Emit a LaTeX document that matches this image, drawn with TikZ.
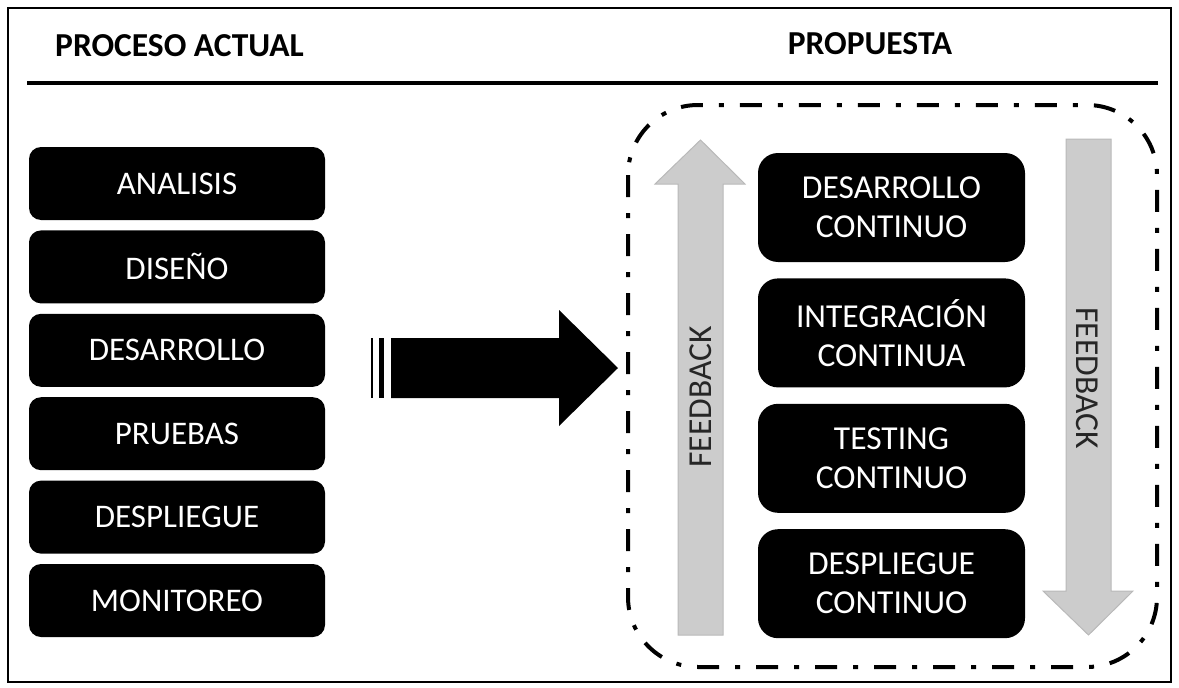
\documentclass[tikz,border=0pt]{standalone}
\usepackage{fontspec}
\setmainfont{Carlito}
\usetikzlibrary{positioning}

\begin{document}
\begin{tikzpicture}[
    x=1pt, y=-1pt,
    node distance=10pt,
    phase/.style={rectangle, fill=black, text=white, rounded corners=12pt, minimum width=296pt, minimum height=73pt, font=\fontsize{33}{38}\selectfont},
    cont/.style={rectangle, fill=black, text=white, rounded corners=20pt, minimum width=267pt, minimum height=109pt, align=center, font=\fontsize{33.5}{39}\selectfont},
    title/.style={font=\bfseries\fontsize{33.5}{38}\selectfont},
    feedarrow/.style={fill=gray!40, draw=gray!55, line width=1pt},
    feedlabel/.style={text=black!85, font=\fontsize{33.5}{38}\selectfont}
]
\useasboundingbox (0,0) rectangle (1179,688);

% Frame and header
\draw[line width=2pt] (8,8) rectangle (1171,682);
\node[title, anchor=west, inner sep=0pt] (actual) at (55,46) {PROCESO ACTUAL};
\node[title] (propuesta) at (870,44) {PROPUESTA};
\draw[line width=4pt] (27,83) -- (1158,83);

% Current process
\node[phase] (analisis) at (177,183.5) {ANALISIS};
\node[phase, below=of analisis] (diseno) {DISEÑO};
\node[phase, below=of diseno] (desarrollo) {DESARROLLO};
\node[phase, below=of desarrollo] (pruebas) {PRUEBAS};
\node[phase, below=of pruebas] (despliegue) {DESPLIEGUE};
\node[phase, below=of despliegue] (monitoreo) {MONITOREO};

% Striped arrow
\fill (370.5,338) rectangle (372.5,398);
\fill (379,338) rectangle (384,398);
\fill (391,338) -- (559,338) -- (559,310) -- (618,368) -- (559,426) -- (559,398) -- (391,398) -- cycle;

% Proposal
\node[cont] (devcont) at (891.5,207.5) {DESARROLLO\\CONTINUO};
\node[cont, below=16pt of devcont] (intcont) {INTEGRACIÓN\\CONTINUA};
\node[cont, below=16pt of intcont] (testcont) {TESTING\\CONTINUO};
\node[cont, below=16pt of testcont] (despcont) {DESPLIEGUE\\CONTINUO};

% Feedback arrows
\draw[feedarrow] (678,635) -- (678,184) -- (655,184) -- (700.5,140) -- (745,184) -- (723,184) -- (723,635) -- cycle;
\node[feedlabel, rotate=90] (fbup) at (701,397) {FEEDBACK};
\draw[feedarrow] (1066,139) -- (1111,139) -- (1111,591) -- (1133,591) -- (1088.5,635) -- (1043,591) -- (1066,591) -- cycle;
\node[feedlabel, rotate=-90] (fbdown) at (1087,378) {FEEDBACK};

% Grouping box
\draw[line width=4pt, dash pattern=on 22pt off 16pt on 5pt off 16pt, rounded corners=70pt] (628,105) rectangle (1157,667);

\end{tikzpicture}
\end{document}
